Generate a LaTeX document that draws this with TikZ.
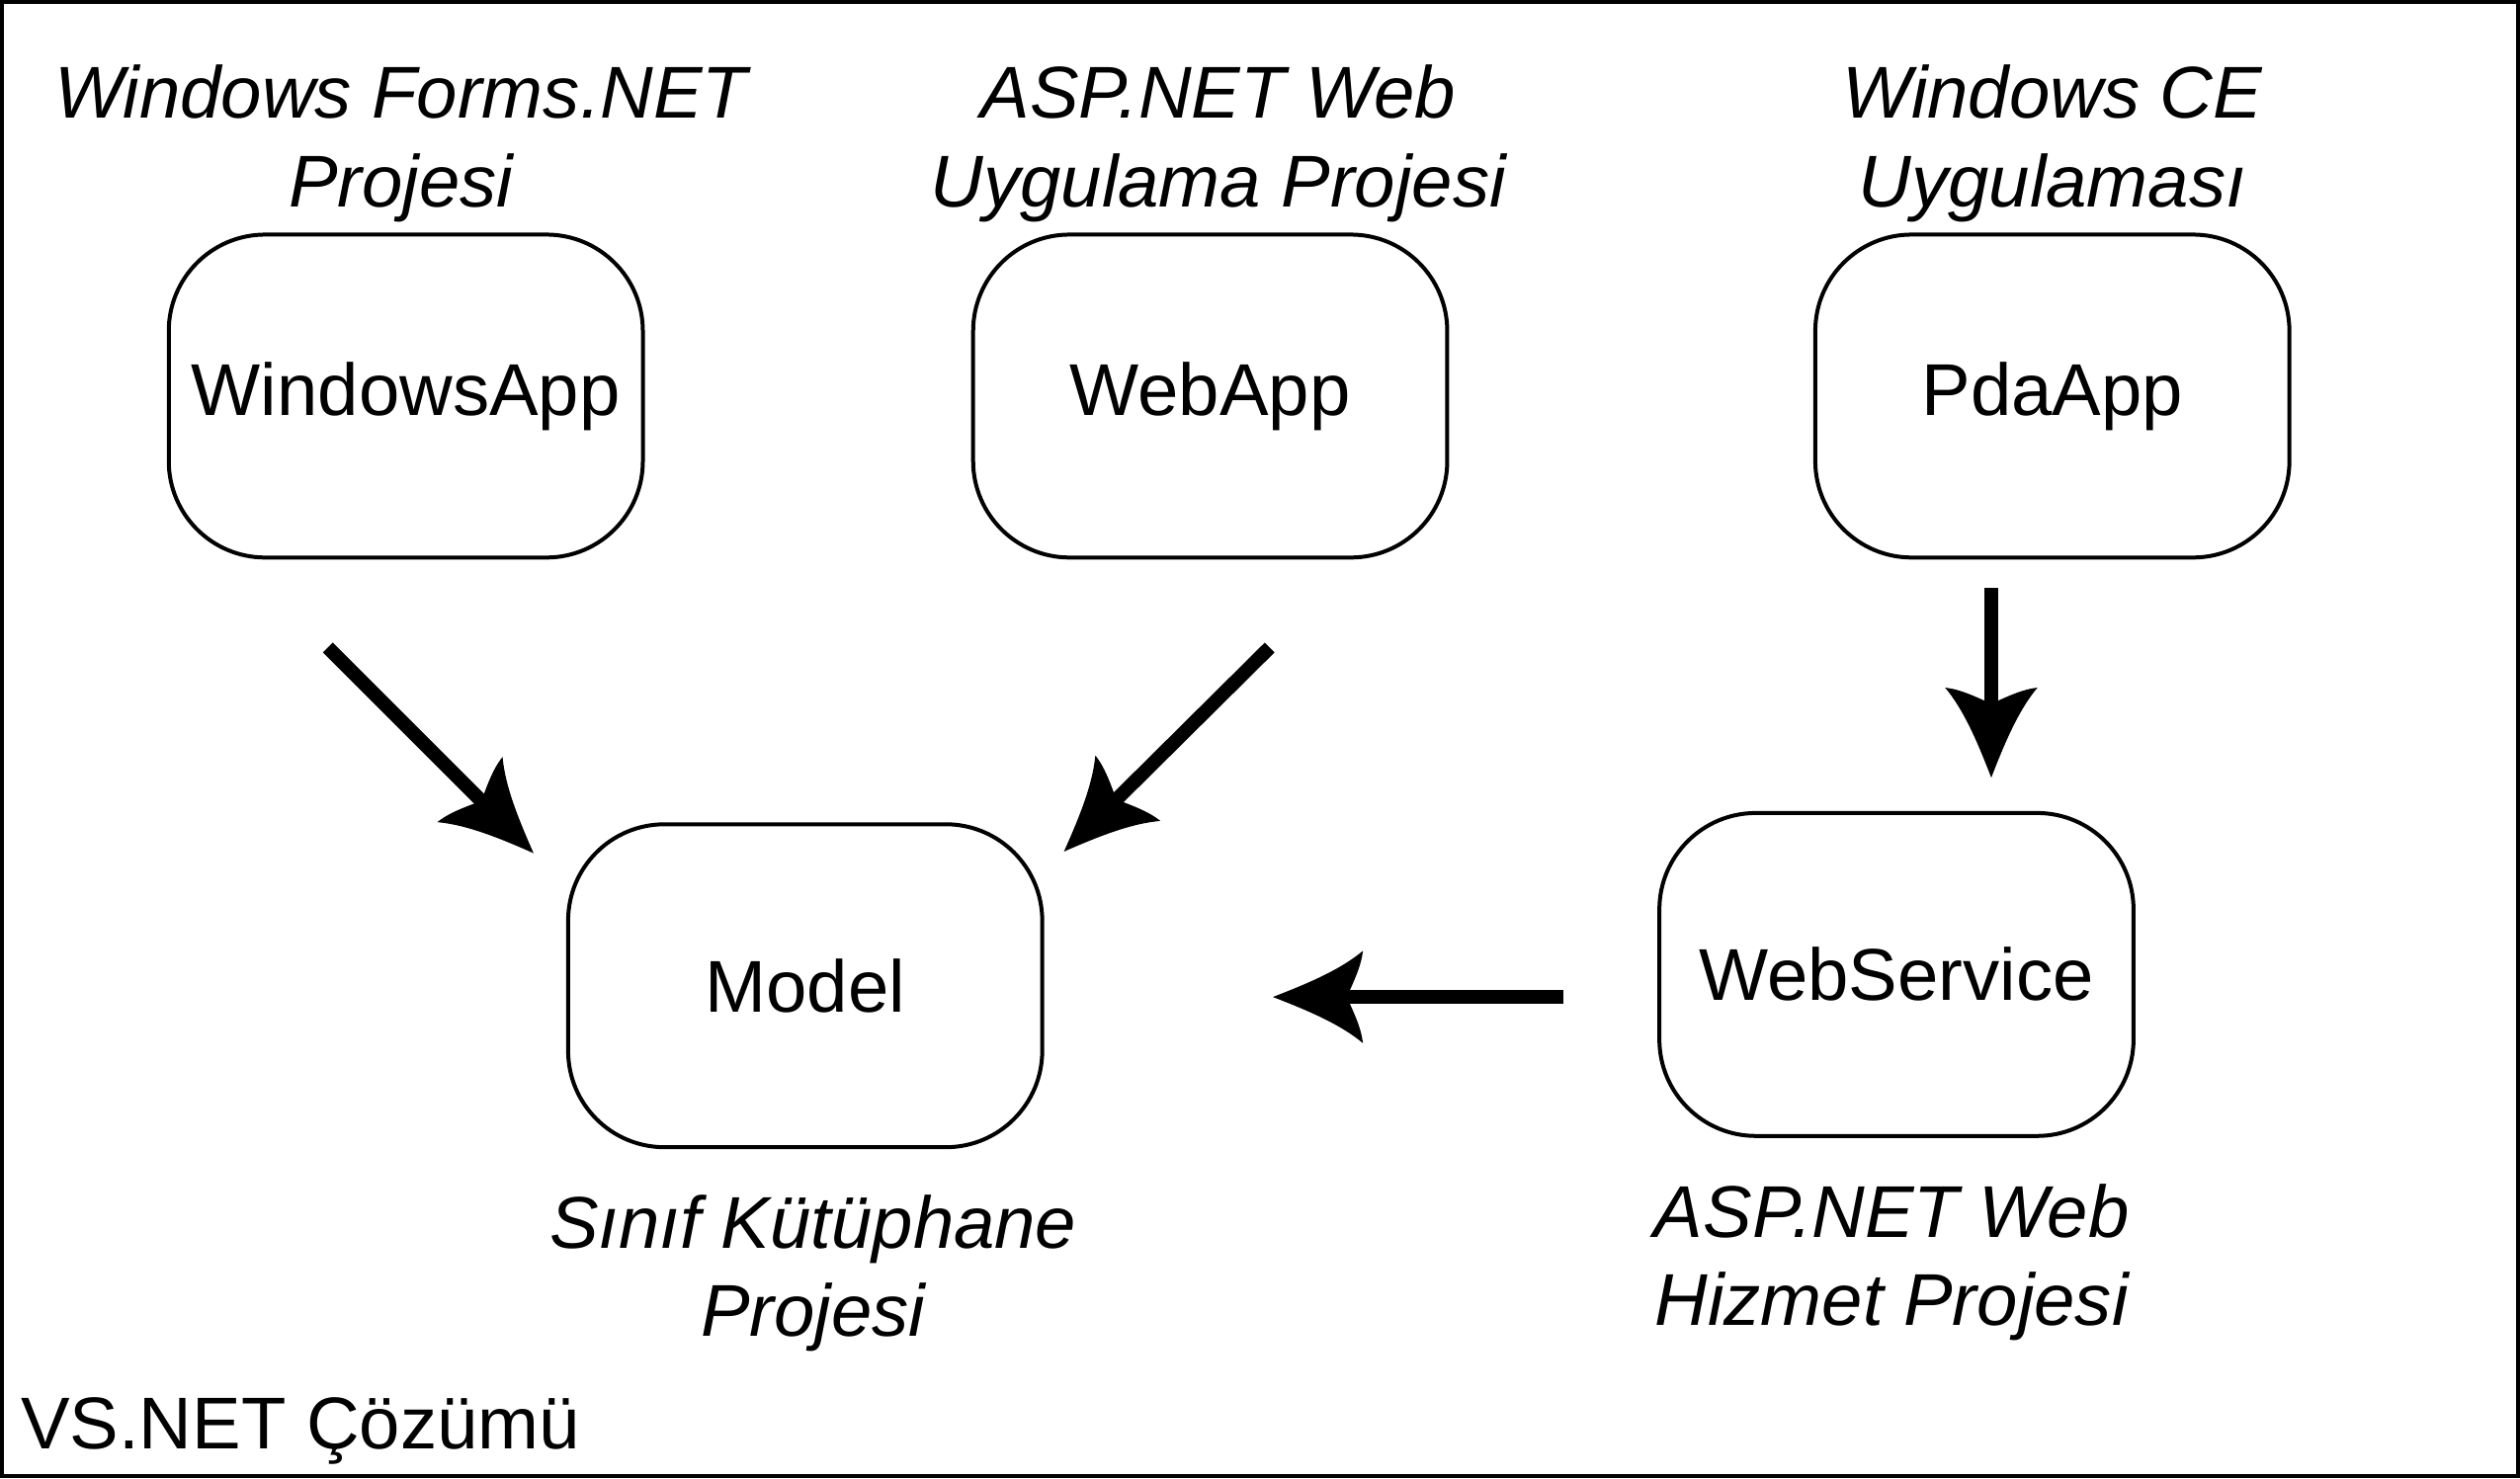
\documentclass[tikz,border=0pt]{standalone}
\usepackage{fontspec}
\setmainfont{Liberation Sans}
\usetikzlibrary{positioning}

\pgfdeclarearrow{
  name=curvedhead,
  setup code={
    \pgfarrowssettipend{0pt}
    \pgfarrowssetlineend{-4mm}
    \pgfarrowssetbackend{-5.6mm}
    \pgfarrowssetvisualbackend{-4.6mm}
  },
  drawing code={
    \pgfpathmoveto{\pgfpointorigin}
    \pgfpathcurveto{\pgfpoint{-2.2mm}{0.85mm}}{\pgfpoint{-4.2mm}{1.7mm}}{\pgfpoint{-5.6mm}{2.87mm}}
    \pgfpathcurveto{\pgfpoint{-5.5mm}{1.9mm}}{\pgfpoint{-5.0mm}{0.9mm}}{\pgfpoint{-4.6mm}{0mm}}
    \pgfpathcurveto{\pgfpoint{-5.0mm}{-0.9mm}}{\pgfpoint{-5.5mm}{-1.9mm}}{\pgfpoint{-5.6mm}{-2.87mm}}
    \pgfpathcurveto{\pgfpoint{-4.2mm}{-1.7mm}}{\pgfpoint{-2.2mm}{-0.85mm}}{\pgfpointorigin}
    \pgfpathclose
    \pgfusepathqfill
  }
}

\begin{document}
\begin{tikzpicture}[font=\fontsize{13}{15.6}\selectfont,
	proj/.style={draw,line width=0.7pt,rounded corners=0.6cm,minimum width=2.95cm,minimum height=2.01cm},
	lbl/.style={font=\fontsize{13}{15.6}\selectfont\itshape,align=center,inner sep=0pt},
	dep/.style={line width=2.45pt,-curvedhead}]
\useasboundingbox (0,0) rectangle (15.68,9.2);
\draw[line width=0.7pt] (0.0125,0.0125) rectangle (15.6675,9.1875);

\node[proj] (winapp) at (2.525,6.735) {WindowsApp};
\node[proj] (webapp) at (7.53,6.735) {WebApp};
\node[proj] (pdaapp) at (12.77,6.735) {PdaApp};
\node[proj] (model) at (5.01,3.065) {Model};
\node[proj] (websvc) at (11.80,3.135) {WebService};

\node[lbl,above=0.06cm of winapp,xshift=-0.03cm] (winlbl) {Windows Forms.NET\\Projesi};
\node[lbl,above=0.06cm of webapp,xshift=0.05cm] (weblbl) {ASP.NET Web\\Uygulama Projesi};
\node[lbl,above=0.06cm of pdaapp] (pdalbl) {Windows CE\\Uygulaması};
\node[lbl,below=0.28cm of model,xshift=0.05cm] (modellbl) {Sınıf Kütüphane\\Projesi};
\node[lbl,below=0.28cm of websvc,xshift=-0.03cm] (svclbl) {ASP.NET Web\\Hizmet Projesi};
\node[anchor=north west,inner sep=0pt] (sol) at (0.123,0.51) {VS.NET Çözümü};

\coordinate (win1) at (2.04,5.17);
\coordinate (win2) at (3.32,3.89);
\coordinate (web1) at (7.90,5.17);
\coordinate (web2) at (6.62,3.90);
\coordinate (pda1) at (12.39,5.54);
\coordinate (pda2) at (12.39,4.36);
\coordinate (svc1) at (9.73,2.995);
\coordinate (svc2) at (7.92,2.995);

\foreach \a/\b in {win1/win2,web1/web2,pda1/pda2,svc1/svc2}
	\draw[dep](\a)--(\b);

\end{tikzpicture}
\end{document}
